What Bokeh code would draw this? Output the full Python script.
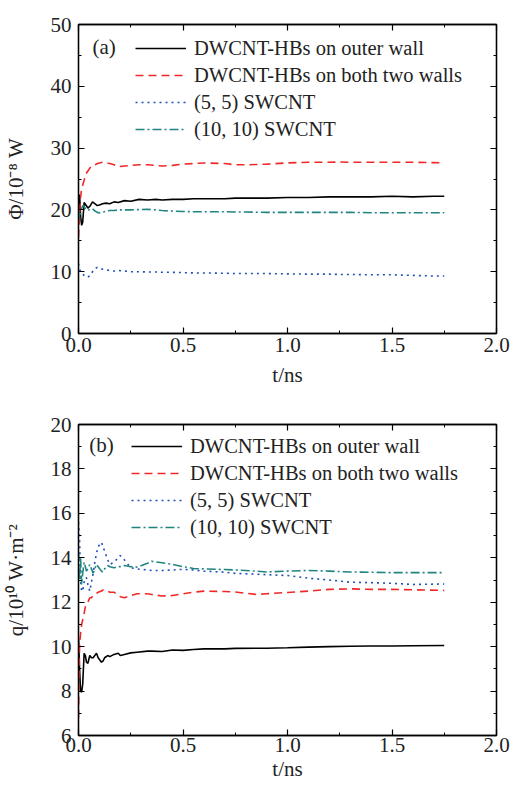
from bokeh.plotting import figure
from bokeh.models import (Legend, LegendItem, LinearAxis, SingleIntervalTicker,
                          Label, Range1d, CustomJSTickFormatter, NumeralTickFormatter)
from bokeh.layouts import column
from bokeh.embed import file_html
from bokeh.resources import INLINE

FONT = "Liberation Serif"

labels = ["DWCNT-HBs on outer wall", "DWCNT-HBs on both two walls",
          "(5, 5) SWCNT", "(10, 10) SWCNT"]
colors = ["#000000", "#f02828", "#2050b8", "#20857f"]
dashes = ["solid", "8 5", "2 4", "9 3 2 3"]

# ---- panel (a): heat flow Phi (1e-8 W) ----
t_a = [0, 0.005, 0.01, 0.015, 0.02, 0.027, 0.035, 0.045, 0.055, 0.067, 0.075, 0.09,
       0.1, 0.115, 0.13, 0.15, 0.17, 0.19, 0.22, 0.25, 0.29, 0.33, 0.37, 0.4, 0.45,
       0.5, 0.55, 0.6, 0.7, 0.75, 0.8, 0.9, 1.0, 1.1, 1.2, 1.25, 1.3, 1.4, 1.5, 1.6,
       1.7, 1.75]
phi_outer = [19.5, 22.5, 19.0, 17.5, 18.0, 21.2, 20.8, 20.3, 20.6, 21.3, 21.1, 20.7,
             20.8, 21.0, 21.1, 21.0, 21.3, 21.2, 21.5, 21.4, 21.7, 21.6, 21.7, 21.6, 21.7,
             21.7, 21.8, 21.8, 21.8, 21.9, 21.9, 21.9, 22.0, 22.0, 22.1, 22.1, 22.1, 22.1,
             22.2, 22.1, 22.2, 22.2]
phi_both = [15.5, 19.0, 22.0, 23.5, 24.0, 24.8, 25.8, 26.3, 26.8, 27.2, 27.2, 27.5,
            27.6, 27.7, 27.6, 27.5, 27.3, 27.0, 27.1, 27.2, 27.3, 27.3, 27.2, 27.1, 27.2,
            27.4, 27.5, 27.6, 27.5, 27.3, 27.3, 27.4, 27.6, 27.7, 27.7, 27.75, 27.7, 27.7,
            27.7, 27.7, 27.65, 27.6]
phi_55 = [11.3, 10.5, 9.9, 9.7, 9.6, 9.4, 9.2, 9.1, 9.4, 10.0, 10.4, 10.7,
          10.6, 10.4, 10.3, 10.2, 10.1, 10.2, 10.1, 10.0, 10.0, 9.95, 9.95, 9.9, 9.9,
          9.85, 9.8, 9.8, 9.75, 9.7, 9.7, 9.7, 9.65, 9.6, 9.6, 9.55, 9.55, 9.5,
          9.5, 9.4, 9.3, 9.3]
phi_1010 = [19.9, 18.6, 19.5, 20.2, 20.7, 20.5, 20.1, 19.9, 20.1, 20.2, 19.9, 19.6,
            19.5, 19.6, 19.8, 19.9, 19.9, 20.0, 20.0, 20.0, 20.05, 20.1, 20.0, 19.9, 19.8,
            19.75, 19.7, 19.7, 19.7, 19.65, 19.65, 19.6, 19.6, 19.6, 19.6, 19.6, 19.6,
            19.55, 19.55, 19.55, 19.55, 19.55]

# ---- panel (b): heat flux q (1e10 W/m^2) ----
t_b = [0, 0.005, 0.01, 0.015, 0.02, 0.027, 0.033, 0.038, 0.045, 0.054, 0.062, 0.07,
       0.078, 0.086, 0.094, 0.11, 0.117, 0.125, 0.14, 0.15, 0.17, 0.19, 0.2, 0.22,
       0.25, 0.28, 0.33, 0.35, 0.4, 0.45, 0.5, 0.55, 0.6, 0.7, 0.75, 0.85, 0.9, 1.0,
       1.1, 1.2, 1.3, 1.4, 1.5, 1.6, 1.75]
q_outer = [10.4, 9.0, 8.0, 7.95, 8.3, 9.7, 9.6, 9.3, 9.25, 9.6, 9.5, 9.5,
           9.6, 9.7, 9.5, 9.3, 9.35, 9.5, 9.6, 9.55, 9.65, 9.7, 9.6, 9.65,
           9.72, 9.75, 9.8, 9.8, 9.78, 9.85, 9.83, 9.87, 9.9, 9.9, 9.92, 9.93, 9.93, 9.95,
           9.98, 10.0, 10.02, 10.03, 10.03, 10.04, 10.05]
q_both = [6.8, 10.0, 10.6, 11.0, 11.2, 11.5, 11.8, 11.9, 12.0, 12.2, 12.2, 12.3,
          12.35, 12.4, 12.45, 12.5, 12.55, 12.56, 12.5, 12.45, 12.45, 12.3, 12.25, 12.2,
          12.3, 12.38, 12.38, 12.35, 12.28, 12.3, 12.38, 12.45, 12.5, 12.48, 12.46, 12.35,
          12.38, 12.44, 12.5, 12.58, 12.6, 12.58, 12.58, 12.56, 12.53]
q_55 = [15.6, 14.9, 13.0, 12.5, 12.5, 12.9, 13.1, 13.1, 12.8, 12.5, 12.9, 13.3,
        13.8, 14.2, 14.5, 14.7, 14.5, 14.3, 13.9, 13.7, 13.8, 14.0, 14.1, 13.9,
        13.55, 13.5, 13.45, 13.43, 13.43, 13.45, 13.48, 13.45, 13.4, 13.35, 13.3, 13.26,
        13.24, 13.2, 13.08, 13.0, 12.9, 12.88, 12.85, 12.8, 12.82]
q_1010 = [14.26, 13.0, 14.0, 12.8, 13.3, 13.8, 13.6, 13.4, 13.5, 13.7, 13.5, 13.3,
          13.5, 13.7, 13.6, 13.4, 13.35, 13.5, 13.65, 13.6, 13.55, 13.6, 13.6, 13.65,
          13.6, 13.58, 13.75, 13.84, 13.78, 13.7, 13.6, 13.52, 13.5, 13.47, 13.45, 13.4,
          13.36, 13.4, 13.43, 13.4, 13.36, 13.35, 13.33, 13.33, 13.33]

x_ticks_step = 0.5


def blank_formatter():
    return CustomJSTickFormatter(code="return ''")


def style_axis(ax, show_labels):
    ax.axis_line_color = "black"
    ax.axis_line_width = 1.3
    ax.major_tick_line_color = "black"
    ax.minor_tick_line_color = "black"
    ax.major_tick_line_width = 1.2
    ax.minor_tick_line_width = 1.0
    ax.major_tick_in = 6
    ax.major_tick_out = 0
    ax.minor_tick_in = 3
    ax.minor_tick_out = 0
    ax.major_label_text_font = FONT
    ax.major_label_text_font_size = "21px"
    ax.major_label_text_color = "#222222"
    ax.axis_label_text_font = FONT
    ax.axis_label_text_font_size = "21px"
    ax.axis_label_text_font_style = "normal"
    ax.axis_label_text_color = "#222222"
    if not show_labels:
        ax.formatter = blank_formatter()
        ax.major_label_standoff = 0


def make_panel(t, ys, yr, ystep, ylabel, tag, tag_xy, legend_xy, height, bleft, fwidth,
               btop, bbot, xl_standoff, xa_standoff):
    p = figure(width=514, height=height, x_range=Range1d(0, 2), y_range=Range1d(*yr),
               output_backend="svg", toolbar_location=None,
               min_border_left=bleft, min_border_right=514 - bleft - fwidth,
               min_border_top=btop, min_border_bottom=bbot)
    p.grid.visible = False
    p.outline_line_color = "black"
    p.outline_line_width = 1.3
    p.xaxis.ticker = SingleIntervalTicker(interval=x_ticks_step, num_minor_ticks=2)
    p.yaxis.ticker = SingleIntervalTicker(interval=ystep, num_minor_ticks=2)
    p.xaxis.formatter = NumeralTickFormatter(format="0.0")
    p.xaxis.axis_label = "t/ns"
    p.yaxis.axis_label = ylabel
    for ax in p.xaxis + p.yaxis:
        style_axis(ax, True)
    p.xaxis.major_label_standoff = xl_standoff
    p.xaxis.axis_label_standoff = xa_standoff
    p.yaxis.major_label_standoff = 7
    p.yaxis.axis_label_standoff = 20

    top = LinearAxis(ticker=SingleIntervalTicker(interval=x_ticks_step, num_minor_ticks=2))
    right = LinearAxis(ticker=SingleIntervalTicker(interval=ystep, num_minor_ticks=2))
    style_axis(top, False)
    style_axis(right, False)
    p.add_layout(top, "above")
    p.add_layout(right, "right")

    items = []
    for y, lab, c, d in zip(ys, labels, colors, dashes):
        r = p.line(t, y, line_color=c, line_width=1.6, line_dash=d)
        items.append(LegendItem(label=lab, renderers=[r]))
    leg = Legend(items=items, location=legend_xy, border_line_color=None,
                 background_fill_alpha=0, padding=0, margin=0, spacing=3,
                 label_height=24, glyph_height=24, glyph_width=51, label_standoff=8,
                 label_text_font=FONT, label_text_font_size="20.5px",
                 label_text_color="#222222")
    p.add_layout(leg)
    p.add_layout(Label(x=tag_xy[0], y=tag_xy[1], text=tag, text_baseline="middle",
                       text_font=FONT, text_font_size="21px", text_color="#222222"))
    return p


p1 = make_panel(t_a, [phi_outer, phi_both, phi_55, phi_1010], (0, 50), 10,
                "Φ/10⁻⁸ W", "(a)", (0.067, 46.3), (57, 192), 394, 76, 420, 24, 61, 4, 8)
p2 = make_panel(t_b, [q_outer, q_both, q_55, q_1010], (6, 20), 2,
                "q/10¹⁰ W·m⁻²", "(b)", (0.052, 19.06), (53, 196), 391, 77, 421, 30, 50, 2, 2)

layout = column(p1, p2, spacing=0)
open("out.html", "w").write(file_html(layout, INLINE))
